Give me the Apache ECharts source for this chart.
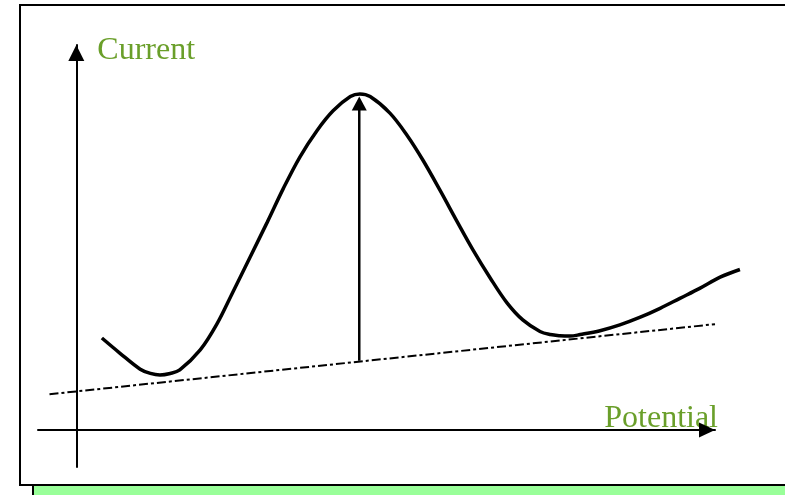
<!DOCTYPE html>
<html>
<head>
<meta charset="utf-8">
<script src="https://cdn.jsdelivr.net/npm/echarts@6/dist/echarts.min.js"></script>
<style>
  html, body { margin: 0; padding: 0; background: #fff; }
  #wrap { position: relative; width: 785px; height: 495px; overflow: hidden; }
  #frame { position: absolute; left: 19px; top: 4px; width: 800px; height: 482px; border: 2px solid #000; box-sizing: border-box; }
  #band { position: absolute; left: 32px; top: 486px; width: 760px; height: 12px; background: #99ff99; border-left: 2px solid #000; }
  #chart { position: absolute; left: 0; top: 0; width: 785px; height: 495px; }
</style>
</head>
<body>
<div id="wrap">
  <div id="frame"></div>
  <div id="band"></div>
  <div id="chart"></div>
</div>
<script>
  // peak curve (potential, current)
  var curveX = [4.0, 6.8, 10.0, 11.6, 13.1, 14.7, 16.2, 19.4, 22.0, 24.5, 27.2, 29.9, 32.4, 35.0, 37.7, 40.2,
                42.9, 44.4, 46.0, 49.1, 51.8, 54.3, 57.0, 59.6, 62.1, 64.8, 67.4, 69.9, 72.6, 74.2, 75.7, 77.3,
                78.9, 82.0, 85.1, 88.3, 91.4, 94.5, 97.6, 100.8, 103.9]
  var curveY = [23.9, 20.0, 15.8, 14.7, 14.3, 14.7, 15.6, 20.8, 27.5, 35.8, 44.9, 54.0, 62.7, 70.9, 77.8, 82.9,
                86.6, 87.3, 86.6, 82.3, 76.5, 70.0, 62.1, 54.2, 46.8, 39.5, 33.1, 28.6, 25.6, 24.8, 24.5, 24.4,
                24.8, 25.8, 27.3, 29.3, 31.6, 34.2, 36.8, 39.7, 41.7]
  // baseline (dash-dot)
  var baseX = [-4.2, 100.0]
  var baseY = [9.3, 27.5]
  // peak height arrow
  var peakX = [44.3, 44.3]
  var peakY = [18.0, 84.8]

  function pairs(xs, ys) {
    var arr = []
    for (var i = 0; i < xs.length; i++) {
      arr.push([xs[i], ys[i]])
    }
    return arr
  }

  var green = '#6a9f2a'
  var nameFont = {
    color: green,
    fontFamily: 'Liberation Serif',
    fontSize: 32
  }
  var arrowLine = function (size) {
    return {
      onZero: true,
      symbol: ['none', 'triangle'],
      symbolSize: size,
      symbolOffset: [0, -8],
      lineStyle: { color: '#000', width: 2 }
    }
  }

  var chart = echarts.init(document.getElementById('chart'))
  var option = {
    animation: false,
    // grid 0 carries the drawn axes, grid 1 (same scale, wider) carries the data so nothing is cut
    grid: [
      { left: 38, right: 70, top: 45, bottom: 28 },
      { left: 38, right: 30, top: 45, bottom: 28 }
    ],
    xAxis: [
      {
        type: 'value', gridIndex: 0, min: -6, max: 100,
        name: 'Potential',
        nameLocation: 'end',
        nameGap: 3,
        nameTextStyle: Object.assign({ align: 'right', verticalAlign: 'bottom', padding: [0, 0, -5, 0] }, nameFont),
        axisLine: arrowLine([15, 16]),
        axisTick: { show: false },
        axisLabel: { show: false },
        splitLine: { show: false }
      },
      {
        type: 'value', gridIndex: 1, min: -6, max: 106.26, show: false
      }
    ],
    yAxis: [
      {
        type: 'value', gridIndex: 0, min: -9.6, max: 100,
        name: 'Current',
        nameLocation: 'end',
        nameGap: -6,
        nameTextStyle: Object.assign({ align: 'left', verticalAlign: 'middle', padding: [0, 0, 0, 21] }, nameFont),
        axisLine: arrowLine([16, 16]),
        axisTick: { show: false },
        axisLabel: { show: false },
        splitLine: { show: false }
      },
      {
        type: 'value', gridIndex: 1, min: -9.6, max: 100, show: false
      }
    ],
    series: [
      {
        type: 'line',
        xAxisIndex: 1, yAxisIndex: 1,
        data: pairs(baseX, baseY),
        showSymbol: false,
        clip: false,
        lineStyle: { color: '#000', width: 2, type: [9, 3, 3, 3] }
      },
      {
        type: 'line',
        xAxisIndex: 1, yAxisIndex: 1,
        data: pairs(curveX, curveY),
        smooth: 0.35,
        showSymbol: false,
        clip: false,
        lineStyle: { color: '#000', width: 3.5 }
      },
      {
        type: 'line',
        xAxisIndex: 1, yAxisIndex: 1,
        data: [
          { value: [peakX[0], peakY[0]], symbol: 'none' },
          { value: [peakX[1], peakY[1]], symbol: 'triangle', symbolSize: [15, 14] }
        ],
        clip: false,
        itemStyle: { color: '#000' },
        lineStyle: { color: '#000', width: 2.5 }
      }
    ]
  }
  chart.setOption(option)
</script>
</body>
</html>
